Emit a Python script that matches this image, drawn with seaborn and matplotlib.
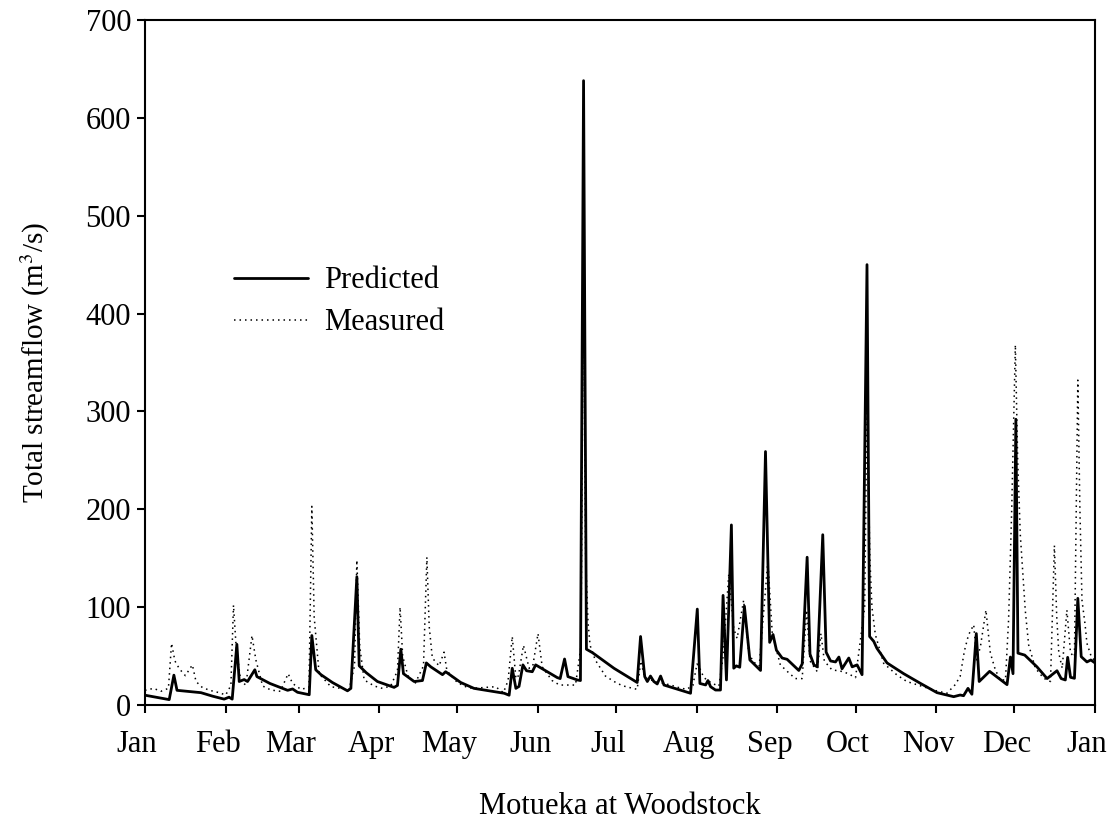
import numpy as np
import pandas as pd
import matplotlib
matplotlib.use("Agg")
import matplotlib.pyplot as plt
import matplotlib.transforms as mtransforms
import seaborn as sns

# ---- data (day of year, m3/s) ----
pred_day = [0, 9.3, 11.1, 12.3, 17.7, 21.5, 26, 30.4, 32.3, 33.5, 35.3, 36.2, 38.1, 39.4, 42.2, 43,
            48, 54.8, 56.7, 58.6, 63.1, 64.1, 65.6, 67.6, 72, 77.8, 79.1, 81.4, 82.3, 85, 89.3, 95.7,
            97, 98.3, 99.3, 103.4, 106.6, 108.1, 109.8, 114.3, 115.5, 121.3, 126.4, 138, 139.9, 141.1,
            142.5, 143.7, 145.2, 146.6, 148.8, 150.1, 158.4, 159.5, 161.2, 162.5, 166.1, 167.3, 168.5,
            169.6, 171.9, 180.2, 189.1, 190.4, 192, 193, 194.2, 195.5, 196.8, 198.1, 199.4, 209.6,
            212.2, 213.2, 215.4, 216.3, 217.3, 219.2, 221.1, 222.1, 223.4, 225.3, 226.2, 227.2, 228.5,
            230.3, 232.4, 236.5, 238.4, 240, 241.3, 242.6, 244.8, 246.7, 251.2, 252.5, 254.4, 255.5,
            257, 258.3, 260.4, 261.7, 263.4, 265.3, 266.6, 267.8, 270.4, 271.7, 273.6, 275.5, 277.4,
            278.4, 280, 281.2, 285.1, 291.5, 298, 304.3, 310.7, 313.2, 314.5, 316.2, 317.7, 319.4,
            320.5, 324.5, 331.2, 332.5, 333.5, 334.6, 335.4, 338, 342.7, 346.6, 350.4, 352, 353.6,
            354.5, 355.6, 357.1, 358.4, 359.7, 361.9, 363.4, 365]
pred_val = [10, 5.5, 30.5, 15, 13.6, 12.6, 9, 6, 8, 6, 62, 24, 26, 24, 36, 29,
            22, 15, 16.4, 13, 10.5, 71, 36, 31, 23, 14.5, 17, 131, 40, 33, 24, 18,
            20, 57, 32, 24, 25, 43, 39, 31, 34, 23, 17, 12, 10, 37.5,
            17, 19, 41, 35, 34, 41, 28, 27, 47, 29, 25.6, 25, 638,
            57, 53.5, 37.5, 23, 70, 29, 24, 29.6, 24, 21.5, 29.6, 20.4, 12,
            98, 22, 20.5, 25, 18.7, 15.3, 15.3, 112, 25.6, 184, 37.6, 40, 38.6,
            101, 46, 35.3, 259, 64, 72, 56, 48, 46.7, 35.3, 42, 151, 52,
            41, 39, 174, 54, 45, 44, 49, 37, 48, 39, 41, 31, 450,
            70, 65, 58, 43, 32, 22, 12.6, 8.5, 10.2, 9.5, 17, 11, 73,
            24, 34.4, 20.8, 49, 32, 292, 53, 51, 39, 27, 35, 27, 25.6,
            48.7, 28.3, 27.3, 109, 49.4, 44, 46, 43]

meas_day = [0, 3.3, 6.1, 9, 10.2, 11.5, 13.2, 15.5, 18.2, 19.6, 22.1, 25.3, 28.5, 31, 33, 34, 35,
            36.8, 38.8, 41.1, 42.6, 45.2, 48.4, 52, 55, 56.7, 59.9, 63, 64.1, 65, 66.9, 71.4, 75.2,
            78.4, 80.5, 81.4, 82.5, 84.2, 88.1, 91.2, 94.4, 97, 98, 99, 101, 103.8, 107, 108.3, 109.2,
            110.4, 113, 114.9, 116, 120, 123.2, 125.8, 134.7, 137.7, 139.5, 141.1, 142.5, 143.5,
            145.4, 147.6, 149, 151, 152.6, 156.4, 159.3, 165.4, 167.5, 168.5, 169.3, 170.2, 171, 173,
            176.9, 180.2, 183.3, 185.9, 189.1, 190.5, 192, 196, 202, 205.2, 208.1, 210.5, 212.1,
            213.4, 214.7, 217.9, 220.5, 222.1, 224.3, 226.2, 227.5, 230, 232, 234, 236, 239.3, 241,
            244.1, 247.3, 249.9, 252.5, 254.2, 255.5, 258.3, 259.7, 261, 263.9, 268.4, 270.9, 273,
            276.5, 277.4, 278.5, 279.3, 280.6, 283.8, 288.9, 292.7, 299.1, 304.3, 308.1, 311.3,
            313.2, 314.8, 316.4, 318.4, 319.6, 321, 323.1, 324.8, 326.7, 328.6, 330.6, 331.8, 333,
            334.4, 335.3, 336.3, 338.2, 339.5, 342.1, 345.3, 347.9, 348.6, 349.4, 350.3, 351.1,
            352.4, 354.2, 355.6, 357.1, 357.7, 358.4, 359.2, 360, 361.2, 361.9, 363.5, 365]
meas_val = [15, 17, 14, 17, 63, 45, 37, 30, 41, 24, 17.7, 14.7, 12.6, 10.2, 20, 102, 60,
            24, 20.4, 71, 46, 19.4, 15.3, 14, 32, 22, 16, 18, 203, 90, 32, 18.7, 17,
            15.3, 40, 148, 60, 25.6, 19.4, 17, 19.4, 35, 100, 50, 30, 22, 40, 151, 80,
            48, 40, 54, 35, 23, 18.7, 17, 18.7, 12.6, 25, 70, 27, 30,
            61, 37.5, 40, 73, 39, 25, 20.4, 20.4, 60, 460, 150, 85, 61, 46,
            29.6, 24, 19.8, 18, 16, 45, 28, 24, 20.4, 17.7, 16, 20, 42,
            36, 28, 22, 19.4, 49, 134, 78, 68, 107, 52, 43.6, 40, 147, 73,
            41, 33, 27, 27, 97, 45, 34, 73, 45, 36, 34, 31, 28,
            100, 310, 150, 100, 72, 42.6, 30.7, 24, 18.7, 14.3, 12, 20.8,
            29.3, 55, 71.6, 82, 46, 60, 97, 53, 36, 25.6, 25.6, 87, 200,
            368, 250, 174, 97, 61.5, 37.6, 27.3, 24, 90, 163, 90, 53,
            37.6, 97, 53, 49.4, 180, 332, 200, 107, 82, 63, 50, 45]

month_starts = [0, 31, 59, 90, 120, 151, 181, 212, 243, 273, 304, 334, 365]
month_labels = ["Jan", "Feb", "Mar", "Apr", "May", "Jun", "Jul", "Aug", "Sep", "Oct", "Nov", "Dec", "Jan"]
y_ticks = [0, 100, 200, 300, 400, 500, 600, 700]

# ---- style ----
sns.set_style("ticks")
plt.rcParams["font.family"] = ["Liberation Serif", "DejaVu Serif"]
plt.rcParams["mathtext.fontset"] = "stix"
for key in ["text.color", "axes.labelcolor", "xtick.color", "ytick.color", "axes.edgecolor"]:
    plt.rcParams[key] = "black"
FS = 22

fig = plt.figure(figsize=(11.15, 8.25), dpi=100)
ax = fig.add_axes([145 / 1115, 1 - 705 / 825, 950 / 1115, 685 / 825])

pred_df = pd.DataFrame({"day": pred_day, "flow": pred_val})
meas_df = pd.DataFrame({"day": meas_day, "flow": meas_val})

sns.lineplot(data=pred_df, x="day", y="flow", ax=ax, color="black", linewidth=2.0,
             sort=False, label="Predicted")
sns.lineplot(data=meas_df, x="day", y="flow", ax=ax, color="black", linewidth=1.1,
             linestyle=(0, (1, 2.6)), sort=False, label="Measured")

ax.set_xlim(0, 365)
ax.set_ylim(0, 700)
ax.set_xticks(month_starts)
ax.set_xticklabels(month_labels, fontsize=FS)
ax.set_yticks(y_ticks)
ax.set_yticklabels([str(v) for v in y_ticks], fontsize=FS)
for sp in ax.spines.values():
    sp.set_linewidth(1.5)
    sp.set_visible(True)
    sp.set_color("black")
ax.tick_params(axis="both", direction="out", width=1.5, color="black", labelcolor="black")
ax.tick_params(axis="x", length=6, pad=12)
ax.tick_params(axis="y", length=6, pad=4)

# shift month labels slightly left as in the reference
offset = mtransforms.ScaledTranslation(-8 / 100, 0, fig.dpi_scale_trans)
for lab in ax.get_xticklabels():
    lab.set_transform(lab.get_transform() + offset)

ax.set_xlabel("Motueka at Woodstock", fontsize=FS, labelpad=24, color="black")
ax.set_ylabel(r"Total streamflow (m$^3$/s)", fontsize=21, labelpad=24, color="black")

leg = ax.legend(loc="upper left", bbox_to_anchor=(0.081, 0.658), frameon=False, fontsize=FS,
                handlelength=2.4, handletextpad=0.55, labelspacing=0.42, borderaxespad=0)
for t in leg.get_texts():
    t.set_color("black")

fig.savefig("out.png", dpi=100)
